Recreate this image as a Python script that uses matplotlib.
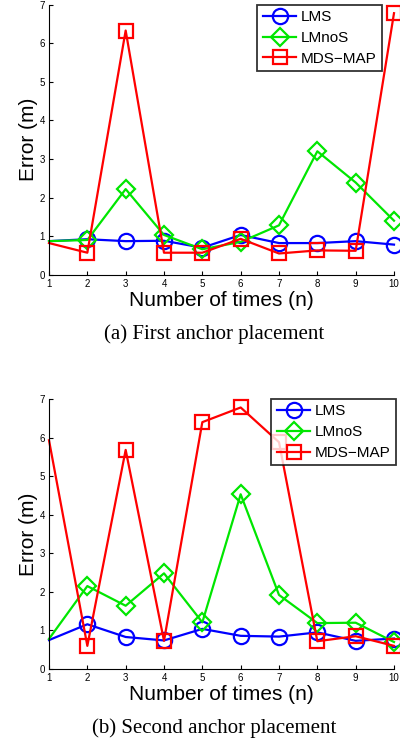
import matplotlib
matplotlib.use("Agg")
import matplotlib.pyplot as plt

x = list(range(1, 11))
xticks = list(range(1, 11))
yticks = list(range(0, 8))

lms_a = [0.87, 0.92, 0.87, 0.88, 0.70, 1.03, 0.82, 0.82, 0.87, 0.78]
lmnos_a = [0.87, 0.90, 2.22, 1.03, 0.66, 0.85, 1.28, 3.20, 2.39, 1.40]
mds_a = [0.82, 0.57, 6.33, 0.57, 0.57, 0.93, 0.55, 0.63, 0.62, 6.78]

lms_b = [0.75, 1.16, 0.83, 0.74, 1.04, 0.86, 0.84, 0.95, 0.73, 0.79]
lmnos_b = [0.78, 2.15, 1.64, 2.48, 1.21, 4.53, 1.92, 1.19, 1.20, 0.70]
mds_b = [5.93, 0.60, 5.68, 0.73, 6.40, 6.78, 5.88, 0.72, 0.85, 0.60]

labels = ["LMS", "LMnoS", "MDS\u2212MAP"]
captions = ["(a) First anchor placement", "(b) Second anchor placement"]

W, H = 400, 746
fig = plt.figure(figsize=(W / 100, H / 100), dpi=100)

def axrect(left, right, top, bottom):
    return [left / W, 1 - bottom / H, (right - left) / W, (bottom - top) / H]

sans = ["Liberation Sans", "DejaVu Sans"]
serif = ["Liberation Serif", "DejaVu Serif"]

panels = [
    (axrect(49, 394, 4.7, 274.7), (lms_a, lmnos_a, mds_a), 300, 334, 382, 4.7),
    (axrect(49, 394, 399, 669), (lms_b, lmnos_b, mds_b), 694.5, 728, 396, 399),
]

for i, (rect, series, xl_y, cap_y, lx, ly) in enumerate(panels):
    ax = fig.add_axes(rect)
    styles = [("#0000ff", "o", 11), ("#00e600", "D", 9.5), ("#ff0000", "s", 9.5)]
    for (c, m, ms), ys, lab in zip(styles, series, labels):
        ax.plot(x, ys, color=c, marker=m, markersize=ms, markerfacecolor="none",
                markeredgecolor=c, markeredgewidth=1.6, linewidth=1.6,
                markevery=list(range(1, 10)), clip_on=False, label=lab)
    ax.set_xlim(1, 10)
    ax.set_ylim(0, 7)
    ax.set_xticks(xticks)
    ax.set_yticks(yticks)
    ax.spines["top"].set_visible(False)
    ax.spines["right"].set_visible(False)
    ax.tick_params(direction="in", length=3, width=0.8, labelsize=7, pad=3)
    for t in ax.get_xticklabels() + ax.get_yticklabels():
        t.set_family(sans)
    ax.set_ylabel("Error (m)", fontsize=15, family=sans, labelpad=1)
    fig.text(221.5 / W, 1 - xl_y / H, "Number of times (n)", fontsize=15,
             family=sans, ha="center", va="center")
    fig.text(214 / W, 1 - cap_y / H, captions[i], fontsize=15,
             family=serif, ha="center", va="center")
    leg = ax.legend(loc="upper right",
                    bbox_to_anchor=(lx / W, 1 - ly / H), bbox_transform=fig.transFigure,
                    prop={"family": sans, "size": 11}, frameon=True, fancybox=False,
                    edgecolor="black", handlelength=2.2, handletextpad=0.3,
                    borderpad=0.35, labelspacing=0.45, borderaxespad=0.0)
    leg.get_frame().set_linewidth(1.3)

fig.savefig("out.png", dpi=100)
